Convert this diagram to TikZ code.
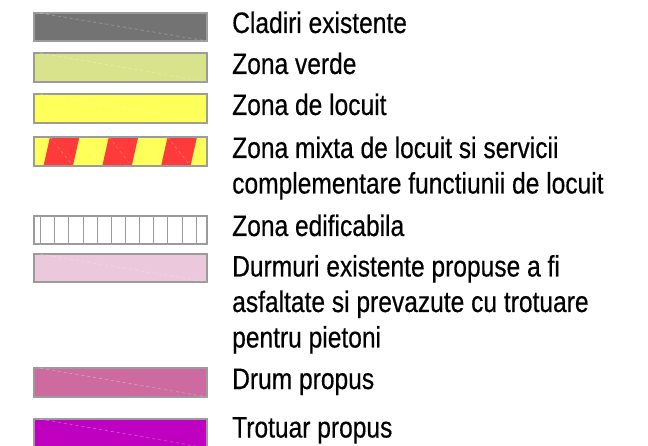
\documentclass[tikz,border=0pt]{standalone}
\usepackage{fontspec}
\setmainfont{Liberation Sans}[FakeStretch=0.83,FakeBold=0.4]
\definecolor{cladiri}{RGB}{115,115,115}
\definecolor{verde}{RGB}{216,227,140}
\definecolor{locuit}{RGB}{255,255,90}
\definecolor{mixtred}{RGB}{255,58,58}
\definecolor{durmuri}{RGB}{236,200,220}
\definecolor{drum}{RGB}{205,106,160}
\definecolor{trotuar}{RGB}{192,0,192}
\definecolor{swborder}{RGB}{155,155,155}
\begin{document}
\begin{tikzpicture}[x=1pt,y=-1pt,
 every node/.style={anchor=base west,inner sep=0pt,font=\fontsize{29.6}{35.5}\selectfont},
 swatch/.style={draw=swborder,line width=1.2pt},
 diag/.style={white,opacity=0.35,dashed,line width=0.6pt}]
 \useasboundingbox (0,0) rectangle (648,446);

 \filldraw [swatch,fill=cladiri] (34,13) rectangle (207,41);
 \draw [diag] (40,13)--(207,41);
 \filldraw [swatch,fill=verde] (34,53) rectangle (207,82);
 \draw [diag] (40,53)--(207,82);
 \filldraw [swatch,fill=locuit] (34,94) rectangle (207,123);
 \draw [diag] (40,94)--(207,123);

 \fill [locuit] (34,137) rectangle (207,166);
 \begin{scope}
  \clip (34,137) rectangle (207,166);
  \foreach \x in {50,108.8,167.6}
   \fill [mixtred] (\x,137)--++(29.4,0)--++(-6.5,29)--++(-29.4,0)--cycle;
  \foreach \x in {20.6,50,...,226}
   \draw [diag] (\x,137)--++(22.9,29);
 \end{scope}
 \draw [swatch] (34,137) rectangle (207,166);

 \foreach \k in {0,...,11}
  \draw [swborder,line width=1pt] ({40.7+14.13*\k},216)--++(0,28);
 \draw [swatch] (34,216) rectangle (207,244);

 \filldraw [swatch,fill=durmuri] (34,254) rectangle (207,282);
 \draw [diag] (40,254)--(207,282);
 \filldraw [swatch,fill=drum] (34,368) rectangle (207,397);
 \draw [diag] (40,368)--(207,397);
 \filldraw [swatch,fill=trotuar] (34,419) rectangle (207,448);
 \draw [diag] (40,419)--(207,448);

 \draw (232,33) node (cladtxt) {Cladiri existente};
 \draw (232,74) node (verdetxt) {Zona verde};
 \draw (232,115) node (locuittxt) {Zona de locuit};
 \draw (232,158) node (mixtatxt) {Zona mixta de locuit si servicii};
 \draw (232,193.5) node (mixtatxtb) {complementare functiunii de locuit};
 \draw (232,236) node (edifictxt) {Zona edificabila};
 \draw (232,276.5) node (durmtxt) {Durmuri existente propuse a fi};
 \draw (232,312) node (durmtxtb) {asfaltate si prevazute cu trotuare};
 \draw (232,347.5) node (durmtxtc) {pentru pietoni};
 \draw (232,389) node (drumtxt) {Drum propus};
 \draw (232,437.5) node (trottxt) {Trotuar propus};

\end{tikzpicture}
\end{document}
